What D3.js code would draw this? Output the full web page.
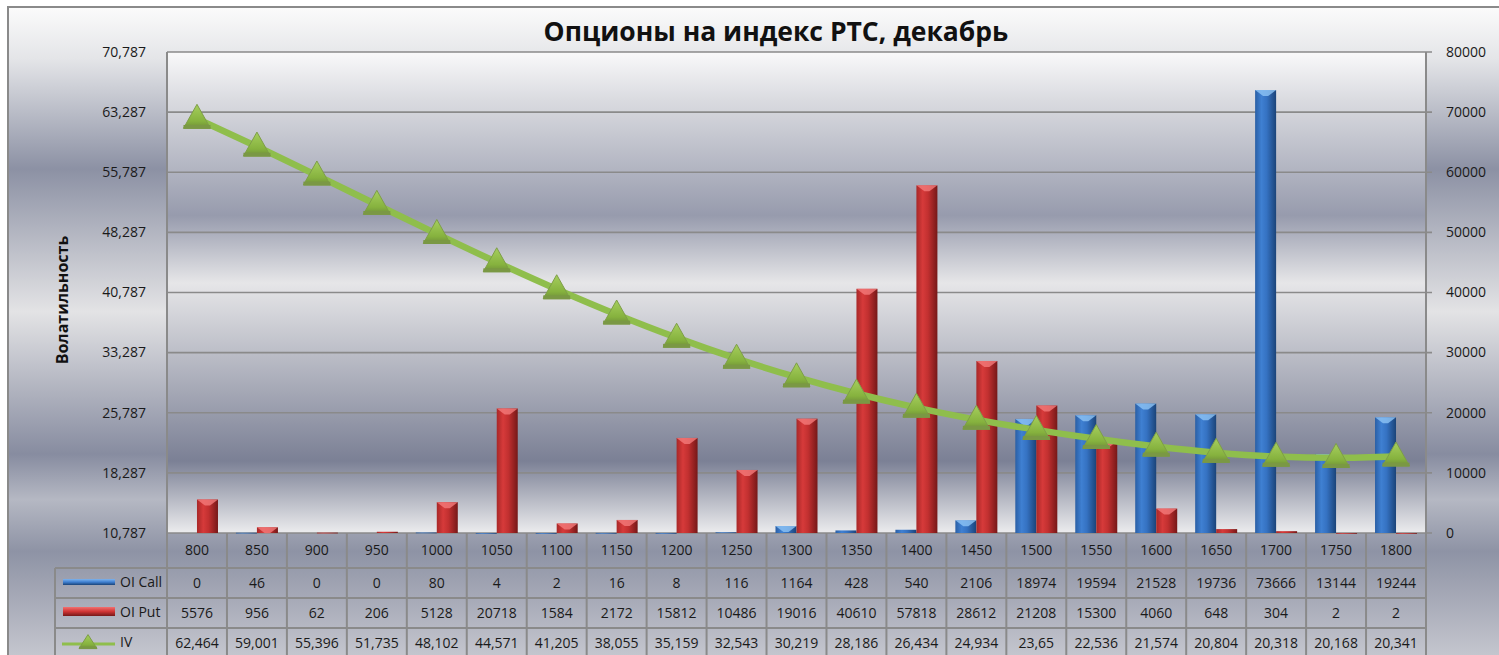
<!DOCTYPE html>
<html>
<head>
<meta charset="utf-8">
<script src="https://cdn.jsdelivr.net/npm/d3@7"></script>
<style>
  html, body { margin: 0; padding: 0; background: #fff; }
  svg { display: block; font-family: "Open Sans", "DejaVu Sans", sans-serif; }
</style>
</head>
<body>
<div id="chart"></div>
<script>
// данные из таблицы под графиком
const strikes = [800, 850, 900, 950, 1000, 1050, 1100, 1150, 1200, 1250, 1300, 1350, 1400, 1450, 1500, 1550, 1600, 1650, 1700, 1750, 1800];
const oiCall = [0, 46, 0, 0, 80, 4, 2, 16, 8, 116, 1164, 428, 540, 2106, 18974, 19594, 21528, 19736, 73666, 13144, 19244];
const oiPut = [5576, 956, 62, 206, 5128, 20718, 1584, 2172, 15812, 10486, 19016, 40610, 57818, 28612, 21208, 15300, 4060, 648, 304, 2, 2];
const iv = [62.464, 59.001, 55.396, 51.735, 48.102, 44.571, 41.205, 38.055, 35.159, 32.543, 30.219, 28.186, 26.434, 24.934, 23.65, 22.536, 21.574, 20.804, 20.318, 20.168, 20.341];
const leftTicks = [10.787, 18.287, 25.787, 33.287, 40.787, 48.287, 55.787, 63.287, 70.787];
const rightTicks = [0, 10000, 20000, 30000, 40000, 50000, 60000, 70000, 80000];

const width = 1499, height = 655;
const plot = {left: 167, right: 1426, top: 52, bottom: 533};
const rows = [533, 568, 598, 628, 658]; // границы строк таблицы
const gridColor = "#8a8a8a";

const fmtComma = v => String(v).replace(".", ",");

const svg = d3.select("#chart").append("svg")
  .attr("width", width)
  .attr("height", height);

const defs = svg.append("defs");

function vGrad(id, y0, y1, stops) {
  const g = defs.append("linearGradient")
    .attr("id", id)
    .attr("gradientUnits", "userSpaceOnUse")
    .attr("x1", 0).attr("x2", 0).attr("y1", y0).attr("y2", y1);
  stops.forEach(([o, c]) => g.append("stop").attr("offset", o).attr("stop-color", c));
}
function hGrad(id, stops) {
  const g = defs.append("linearGradient")
    .attr("id", id)
    .attr("x1", 0).attr("x2", 1).attr("y1", 0).attr("y2", 0);
  stops.forEach(([o, c]) => g.append("stop").attr("offset", o).attr("stop-color", c));
}
function boxGrad(id, stops) {
  const g = defs.append("linearGradient")
    .attr("id", id)
    .attr("x1", 0).attr("x2", 0).attr("y1", 0).attr("y2", 1);
  stops.forEach(([o, c]) => g.append("stop").attr("offset", o).attr("stop-color", c));
}

// металлический фон
vGrad("bgOuter", 7, 655, [
  [0, "#fbfbfb"], [0.08, "#e4e5e8"], [0.25, "#8c91a4"], [0.47, "#e3e3e5"],
  [0.69, "#878ca0"], [0.76, "#b5b8c3"], [0.84, "#8e93a5"], [0.92, "#a9acb9"], [1, "#c4c6ce"]
]);
vGrad("bgPlot", plot.top, plot.bottom, [
  [0, "#f9f9fa"], [0.1, "#dadbe0"], [0.34, "#979bad"], [0.48, "#e6e6e8"],
  [0.85, "#7b8095"], [1, "#ececee"]
]);
hGrad("barBlue", [[0, "#2a5fa5"], [0.3, "#3f80d2"], [0.55, "#3572c2"], [1, "#1b4479"]]);
hGrad("barRed", [[0, "#a82828"], [0.3, "#d63a3a"], [0.55, "#c23030"], [1, "#761818"]]);
boxGrad("keyBlue", [[0, "#7fb4ee"], [0.5, "#3f80d2"], [1, "#1b4479"]]);
boxGrad("keyRed", [[0, "#f27070"], [0.5, "#d03535"], [1, "#761818"]]);
boxGrad("tri", [[0, "#a6cf5e"], [0.7, "#86b23e"], [1, "#6f8f3a"]]);

// внешний фон диаграммы
svg.append("rect")
  .attr("x", 8).attr("y", 7)
  .attr("width", width).attr("height", height)
  .attr("fill", "url(#bgOuter)")
  .attr("stroke", gridColor).attr("stroke-width", 2);

svg.append("rect")
  .attr("x", plot.left).attr("y", plot.top)
  .attr("width", plot.right - plot.left).attr("height", plot.bottom - plot.top)
  .attr("fill", "url(#bgPlot)");

// шкалы
const x = d3.scaleBand(strikes, [plot.left, plot.right]);
const yL = d3.scaleLinear([10.787, 70.787], [plot.bottom, plot.top]);
const yR = d3.scaleLinear([0, 80000], [plot.bottom, plot.top]);
const barW = 21;
const sub = d3.scaleBand(["call", "put"], [-barW, barW]);
const cx = d => x(d) + x.bandwidth() / 2;

// линии сетки
svg.append("g")
  .selectAll("line")
  .data(rightTicks)
  .join("line")
    .attr("x1", plot.left).attr("x2", plot.right + 6)
    .attr("y1", d => yR(d)).attr("y2", d => yR(d))
    .attr("stroke", gridColor).attr("stroke-width", 1.6);

// столбцы
const series = [
  {key: "call", values: oiCall, fill: "url(#barBlue)", cap: "#8fc4f5"},
  {key: "put", values: oiPut, fill: "url(#barRed)", cap: "#f47a7a"}
];
const barData = series.flatMap(s => s.values.map((v, i) => ({s, v, k: strikes[i]}))).filter(d => d.v > 0);

const bars = svg.append("g")
  .selectAll("g")
  .data(barData)
  .join("g")
    .attr("transform", d => `translate(${cx(d.k) + sub(d.s.key)},0)`);

bars.append("rect")
  .attr("width", sub.bandwidth())
  .attr("y", d => yR(d.v))
  .attr("height", d => Math.max(0.8, plot.bottom - yR(d.v)))
  .attr("fill", d => d.s.fill);

bars.filter(d => plot.bottom - yR(d.v) > 5)
  .append("path")
    .attr("d", d => {
      const y0 = yR(d.v), w = sub.bandwidth();
      return `M0,${y0}L${w},${y0}L${w * 0.62},${y0 + 6}L${w * 0.38},${y0 + 6}Z`;
    })
    .attr("fill", d => d.s.cap)
    .attr("opacity", 0.8);

// линия IV
const line = d3.line()
  .x((d, i) => cx(strikes[i]))
  .y(d => yL(d))
  .curve(d3.curveMonotoneX);

svg.append("path")
  .datum(iv)
  .attr("d", line)
  .attr("fill", "none")
  .attr("stroke", "#8fbe4c")
  .attr("stroke-width", 6.5)
  .attr("stroke-linejoin", "round");

function triangle(g, w, h) {
  g.append("path")
    .attr("d", `M0,${-h * 0.6}L${w / 2},${h * 0.4}L${-w / 2},${h * 0.4}Z`)
    .attr("fill", "url(#tri)")
    .attr("stroke", "#7e9e48")
    .attr("stroke-width", 1);
  g.append("rect")
    .attr("x", -w / 2).attr("y", h * 0.26)
    .attr("width", w).attr("height", h * 0.16)
    .attr("fill", "#7a9844");
}

svg.append("g")
  .selectAll("g")
  .data(iv)
  .join("g")
    .attr("transform", (d, i) => `translate(${cx(strikes[i])},${yL(d)})`)
    .each(function() { triangle(d3.select(this), 27, 24); });

// рамки области построения
const frame = svg.append("g").attr("stroke", gridColor).attr("stroke-width", 2);
frame.append("line").attr("x1", plot.left).attr("x2", plot.left).attr("y1", plot.top).attr("y2", height);
frame.append("line").attr("x1", plot.right).attr("x2", plot.right).attr("y1", plot.top).attr("y2", height);

// подписи осей
svg.append("g")
  .attr("font-size", 14).attr("fill", "#1a1a1a")
  .selectAll("text")
  .data(leftTicks)
  .join("text")
    .attr("x", 146).attr("y", d => yL(d) + 1)
    .attr("text-anchor", "end")
    .attr("dominant-baseline", "middle")
    .text(d => d.toFixed(3).replace(".", ","));

svg.append("g")
  .attr("font-size", 14).attr("fill", "#1a1a1a")
  .selectAll("text")
  .data(rightTicks)
  .join("text")
    .attr("x", 1446).attr("y", d => yR(d) + 1)
    .attr("dominant-baseline", "middle")
    .text(d => d);

svg.append("text")
  .attr("transform", "translate(68,300) rotate(-90)")
  .attr("text-anchor", "middle")
  .attr("font-size", 16).attr("font-weight", "bold").attr("fill", "#111")
  .text("Волатильность");

svg.append("text")
  .attr("x", 776).attr("y", 41)
  .attr("text-anchor", "middle")
  .attr("font-size", 26.5).attr("font-weight", "bold").attr("fill", "#111")
  .text("Опционы на индекс РТС, декабрь");

// таблица данных
const table = svg.append("g");
const tableRows = [
  {label: "OI Call", values: oiCall.map(String), key: "call"},
  {label: "OI Put", values: oiPut.map(String), key: "put"},
  {label: "IV", values: iv.map(fmtComma), key: "iv"}
];

table.append("g")
  .attr("stroke", gridColor).attr("stroke-width", 2)
  .selectAll("line")
  .data(rows.slice(1, 4))
  .join("line")
    .attr("x1", 55).attr("x2", plot.right)
    .attr("y1", d => d).attr("y2", d => d);

table.append("line")
  .attr("x1", 55).attr("x2", 55).attr("y1", rows[1]).attr("y2", height)
  .attr("stroke", gridColor).attr("stroke-width", 2);

table.append("g")
  .attr("stroke", gridColor).attr("stroke-width", 2)
  .selectAll("line")
  .data(strikes.slice(1))
  .join("line")
    .attr("x1", d => x(d)).attr("x2", d => x(d))
    .attr("y1", rows[0]).attr("y2", height);

table.append("g")
  .attr("font-size", 14).attr("fill", "#1a1a1a").attr("text-anchor", "middle")
  .selectAll("text")
  .data(strikes)
  .join("text")
    .attr("x", cx).attr("y", (rows[0] + rows[1]) / 2 + 1)
    .attr("dominant-baseline", "middle")
    .text(d => d);

tableRows.forEach((r, ri) => {
  const yc = (rows[ri + 1] + rows[ri + 2]) / 2 + 1;
  table.append("g")
    .attr("font-size", 14).attr("fill", "#1a1a1a").attr("text-anchor", "middle")
    .selectAll("text")
    .data(r.values)
    .join("text")
      .attr("x", (d, i) => cx(strikes[i])).attr("y", yc)
      .attr("dominant-baseline", "middle")
      .text(d => d);

  table.append("text")
    .attr("x", 120).attr("y", yc - 1)
    .attr("font-size", 14).attr("fill", "#1a1a1a")
    .attr("dominant-baseline", "middle")
    .text(r.label);

  if (r.key === "call") {
    table.append("rect").attr("x", 63).attr("y", yc - 5).attr("width", 52).attr("height", 6)
      .attr("fill", "url(#keyBlue)");
  } else if (r.key === "put") {
    table.append("rect").attr("x", 63).attr("y", yc - 7).attr("width", 52).attr("height", 9)
      .attr("fill", "url(#keyRed)");
  } else {
    table.append("line").attr("x1", 62).attr("x2", 115).attr("y1", yc).attr("y2", yc)
      .attr("stroke", "#8fbe4c").attr("stroke-width", 3);
    const k = table.append("g").attr("transform", `translate(88,${yc - 1})`);
    triangle(k, 18, 14);
  }
});
</script>
</body>
</html>
